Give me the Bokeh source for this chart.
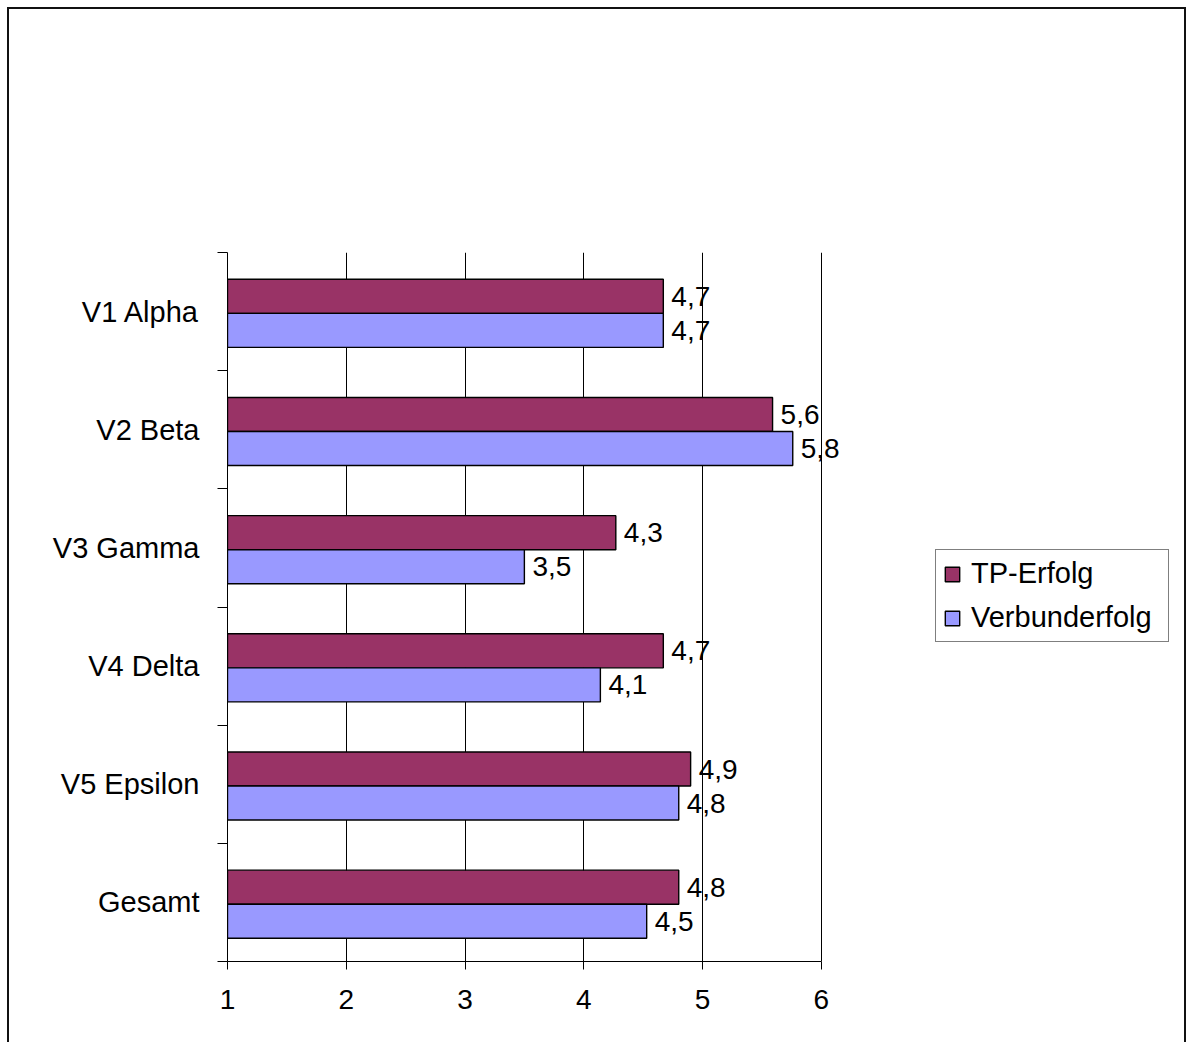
from bokeh.plotting import figure
from bokeh.models import (ColumnDataSource, FixedTicker, Legend, LegendItem,
                          LabelSet, InlineStyleSheet)
from bokeh.core.properties import value
from bokeh.embed import file_html
from bokeh.resources import INLINE

# Chart data
categories = ["V1 Alpha", "V2 Beta", "V3 Gamma", "V4 Delta", "V5 Epsilon", "Gesamt"]
tp_erfolg = [4.67, 5.59, 4.27, 4.67, 4.90, 4.80]
verbunderfolg = [4.67, 5.76, 3.50, 4.14, 4.80, 4.53]
x_ticks = [1, 2, 3, 4, 5, 6]

FONT = "Liberation Sans"
TP_COLOR = "#993366"
VB_COLOR = "#9999FF"
BAR_H = 0.288

n = len(categories)
centers = [n - i - 0.5 for i in range(n)]


def fmt(v):
    return f"{v:.1f}".replace(".", ",")


tp_src = ColumnDataSource(dict(
    y=[c + BAR_H / 2 - 0.015 for c in centers], right=tp_erfolg,
    label=[fmt(v) for v in tp_erfolg]))
vb_src = ColumnDataSource(dict(
    y=[c - BAR_H / 2 - 0.015 for c in centers], right=verbunderfolg,
    label=[fmt(v) for v in verbunderfolg]))

# the frame runs on to the right edge so that value labels and the legend
# are not clipped; the axis itself stops at 6
p = figure(width=1188, height=1042, x_range=(1, 9), y_range=(0, n),
           output_backend="svg", toolbar_location=None,
           min_border_left=227, min_border_right=11,
           min_border_top=252, min_border_bottom=81)
p.outline_line_color = None
p.background_fill_color = "white"
p.border_fill_color = "white"

tp_r = p.hbar(y="y", left=1, right="right", height=BAR_H, source=tp_src,
              fill_color=TP_COLOR, line_color="black", line_width=1.4)
vb_r = p.hbar(y="y", left=1, right="right", height=BAR_H, source=vb_src,
              fill_color=VB_COLOR, line_color="black", line_width=1.4)

for src in (tp_src, vb_src):
    p.add_layout(LabelSet(x="right", y="y", text="label", source=src,
                          x_offset=8, text_baseline="middle",
                          text_font=value(FONT), text_font_size="28px",
                          text_color="black"))

# x axis
p.xaxis.ticker = FixedTicker(ticks=x_ticks)
p.xaxis.bounds = (1, 6)
p.xaxis.axis_line_color = "black"
p.xaxis.major_tick_line_color = "black"
p.xaxis.major_tick_in = 0
p.xaxis.major_tick_out = 8
p.xaxis.minor_tick_line_color = None
p.xaxis.major_label_standoff = 20
p.xaxis.major_label_text_font = FONT
p.xaxis.major_label_text_font_size = "28px"
p.xaxis.major_label_text_color = "black"

# y axis: labels at category centres, ticks at category boundaries
p.yaxis.ticker = FixedTicker(ticks=centers, minor_ticks=list(range(n + 1)))
p.yaxis.major_label_overrides = {c: categories[i] for i, c in enumerate(centers)}
p.yaxis.major_tick_line_color = None
p.yaxis.major_tick_in = 0
p.yaxis.major_tick_out = 0
p.yaxis.minor_tick_line_color = "black"
p.yaxis.minor_tick_in = 0
p.yaxis.minor_tick_out = 10
p.yaxis.axis_line_color = "black"
p.yaxis.major_label_standoff = 18
p.yaxis.major_label_text_font = FONT
p.yaxis.major_label_text_font_size = "29px"
p.yaxis.major_label_text_color = "black"

p.xgrid.grid_line_color = "black"
p.xgrid.grid_line_width = 1
p.ygrid.grid_line_color = None

legend = Legend(items=[LegendItem(label="TP-Erfolg", renderers=[tp_r]),
                       LegendItem(label="Verbunderfolg", renderers=[vb_r])],
                location=(708, 319), orientation="vertical",
                label_text_font=FONT, label_text_font_size="29px",
                label_text_color="black", glyph_width=18, glyph_height=18,
                label_standoff=10, label_width=190, spacing=11, padding=7,
                margin=0, border_line_color="black", border_line_width=1,
                background_fill_alpha=1)
p.add_layout(legend)

# outer chart border (open at the bottom, where the page ends)
p.stylesheets = [InlineStyleSheet(css="""
:host::after {
  content: "";
  position: absolute;
  left: 7px; top: 7px;
  width: 1179px; height: 1035px;
  border: 2px solid #111;
  border-bottom: none;
  box-sizing: border-box;
  pointer-events: none;
  z-index: 10;
}
""")]

open("out.html", "w").write(file_html(p, INLINE))
